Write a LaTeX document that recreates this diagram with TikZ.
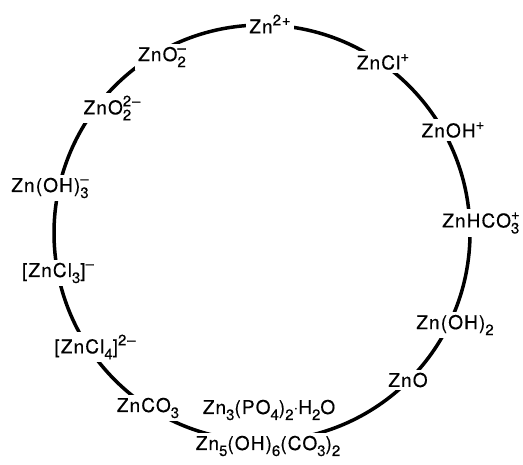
\documentclass[tikz,border=0pt]{standalone}
\usepackage{fontspec}
\setmainfont[LetterSpace=6,FakeBold=0.4]{TeX Gyre Heros}
\usepackage{tikz}
\newcommand{\sd}[1]{\raisebox{-6pt}{\fontsize{15}{15}\selectfont #1}}
\newcommand{\su}[1]{\raisebox{8pt}{\fontsize{15}{15}\selectfont #1}}
\newcommand{\sdsu}[2]{\rlap{\sd{#1}}\su{#2}}

\begin{document}
\begin{tikzpicture}[x=1pt,y=-1pt,every node/.style={font=\fontsize{19}{21}\selectfont,inner sep=3pt},species/.style={fill=white},ring/.style={line width=3.5pt}]
\useasboundingbox (0,0) rectangle (523,464);
\draw[ring] (262,233) circle[radius=208];
\node[species] (zn) at (270,24) {Zn\su{2+}};
\node[species] (zncl) at (383,62) {ZnCl\su{+}};
\node[species] (znoh) at (453,130) {ZnOH\su{+}};
\node[species] (znhco) at (481,223) {ZnHCO\sdsu{3}{+}};
\node[species] (znoh2) at (455,325) {Zn(OH)\sd{2}};
\node[species] (zno) at (408,380) {ZnO};
\node[species] (znohco) at (268,446) {Zn\sd{5}(OH)\sd{6}(CO\sd{3})\sd{2}};
\node (znpo) at (269,410) {Zn\sd{3}(PO\sd{4})\sd{2}$\cdot$H\sd{2}O};
\node[species] (znco) at (148,408) {ZnCO\sd{3}};
\node[species] (zncl4) at (95,347) {[ZnCl\sd{4}]\su{2–}};
\node[species] (zncl3) at (58,273) {[ZnCl\sd{3}]\su{–}};
\node[species] (znoh3) at (50,188) {Zn(OH)\sdsu{3}{–}};
\node[species] (zno22) at (112,108) {ZnO\sdsu{2}{2–}};
\node[species] (zno2) at (162,57) {ZnO\sdsu{2}{–}};
\end{tikzpicture}
\end{document}
